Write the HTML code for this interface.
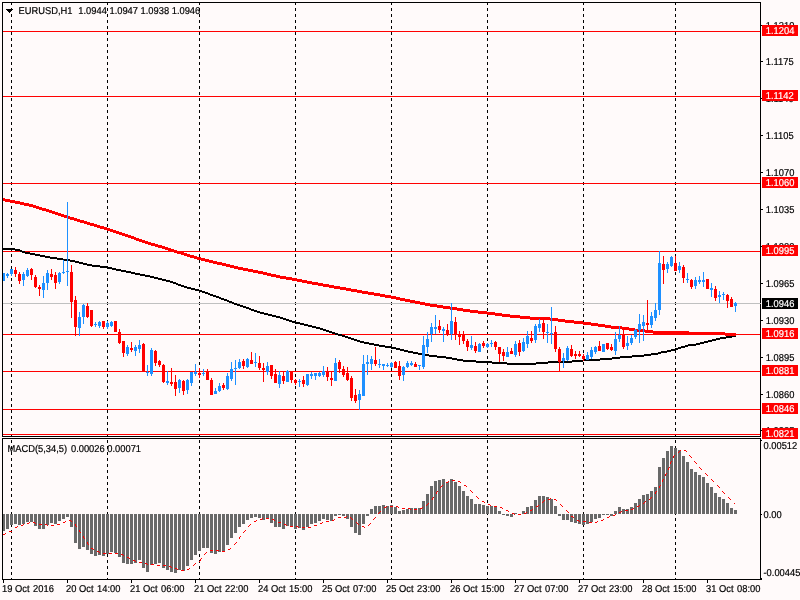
<!DOCTYPE html>
<html><head><meta charset="utf-8"><title>EURUSD,H1</title>
<style>
html,body{margin:0;padding:0;background:#fffafa;overflow:hidden}
svg{display:block}
text{font-family:"Liberation Sans",sans-serif;font-size:10px;fill:#000;stroke:#000;stroke-width:0.2px;text-rendering:geometricPrecision}
.w{fill:#fff;stroke:#fff}
</style></head><body>
<svg width="800" height="600" viewBox="0 0 800 600">
<rect width="800" height="600" fill="#fffafa"/>
<g stroke="#000" stroke-width="1" stroke-dasharray="3 3" shape-rendering="crispEdges">
<line x1="11.5" y1="2" x2="11.5" y2="579"/><line x1="107.5" y1="2" x2="107.5" y2="579"/><line x1="199.5" y1="2" x2="199.5" y2="579"/><line x1="295.5" y1="2" x2="295.5" y2="579"/><line x1="391.5" y1="2" x2="391.5" y2="579"/><line x1="487.5" y1="2" x2="487.5" y2="579"/><line x1="583.5" y1="2" x2="583.5" y2="579"/><line x1="675.5" y1="2" x2="675.5" y2="579"/>
</g>
<g fill="#696969" shape-rendering="crispEdges">
<rect x="3" y="514" width="2" height="17"/><rect x="6" y="514" width="3" height="15"/><rect x="10" y="514" width="3" height="11"/><rect x="14" y="514" width="3" height="10"/><rect x="18" y="514" width="3" height="11"/><rect x="22" y="514" width="3" height="10"/><rect x="26" y="514" width="3" height="8"/><rect x="30" y="514" width="3" height="8"/><rect x="34" y="514" width="3" height="12"/><rect x="38" y="514" width="3" height="15"/><rect x="42" y="514" width="3" height="15"/><rect x="46" y="514" width="3" height="11"/><rect x="50" y="514" width="3" height="9"/><rect x="54" y="514" width="3" height="10"/><rect x="58" y="514" width="3" height="7"/><rect x="62" y="514" width="3" height="5"/><rect x="66" y="514" width="3" height="3"/><rect x="70" y="514" width="3" height="13"/><rect x="74" y="514" width="3" height="29"/><rect x="78" y="514" width="3" height="35"/><rect x="82" y="514" width="3" height="33"/><rect x="86" y="514" width="3" height="36"/><rect x="90" y="514" width="3" height="40"/><rect x="94" y="514" width="3" height="42"/><rect x="98" y="514" width="3" height="41"/><rect x="102" y="514" width="3" height="42"/><rect x="106" y="514" width="3" height="40"/><rect x="110" y="514" width="3" height="38"/><rect x="114" y="514" width="3" height="39"/><rect x="118" y="514" width="3" height="43"/><rect x="122" y="514" width="3" height="49"/><rect x="126" y="514" width="3" height="50"/><rect x="130" y="514" width="3" height="50"/><rect x="134" y="514" width="3" height="49"/><rect x="138" y="514" width="3" height="46"/><rect x="142" y="514" width="3" height="54"/><rect x="146" y="514" width="3" height="58"/><rect x="150" y="514" width="3" height="51"/><rect x="154" y="514" width="3" height="50"/><rect x="158" y="514" width="3" height="49"/><rect x="162" y="514" width="3" height="54"/><rect x="166" y="514" width="3" height="56"/><rect x="170" y="514" width="3" height="58"/><rect x="174" y="514" width="3" height="59"/><rect x="178" y="514" width="3" height="56"/><rect x="182" y="514" width="3" height="57"/><rect x="186" y="514" width="3" height="52"/><rect x="190" y="514" width="3" height="46"/><rect x="194" y="514" width="3" height="41"/><rect x="198" y="514" width="3" height="37"/><rect x="202" y="514" width="3" height="34"/><rect x="206" y="514" width="3" height="34"/><rect x="210" y="514" width="3" height="39"/><rect x="214" y="514" width="3" height="40"/><rect x="218" y="514" width="3" height="38"/><rect x="222" y="514" width="3" height="38"/><rect x="226" y="514" width="3" height="31"/><rect x="230" y="514" width="3" height="24"/><rect x="234" y="514" width="3" height="19"/><rect x="238" y="514" width="3" height="13"/><rect x="242" y="514" width="3" height="10"/><rect x="246" y="514" width="3" height="6"/><rect x="250" y="514" width="3" height="4"/><rect x="254" y="514" width="3" height="3"/><rect x="258" y="514" width="3" height="4"/><rect x="262" y="514" width="3" height="6"/><rect x="266" y="514" width="3" height="5"/><rect x="270" y="514" width="3" height="9"/><rect x="274" y="514" width="3" height="13"/><rect x="278" y="514" width="3" height="13"/><rect x="282" y="514" width="3" height="15"/><rect x="286" y="514" width="3" height="12"/><rect x="290" y="514" width="3" height="13"/><rect x="294" y="514" width="3" height="15"/><rect x="298" y="514" width="3" height="14"/><rect x="302" y="514" width="3" height="16"/><rect x="306" y="514" width="3" height="13"/><rect x="310" y="514" width="3" height="10"/><rect x="314" y="514" width="3" height="9"/><rect x="318" y="514" width="3" height="7"/><rect x="322" y="514" width="3" height="5"/><rect x="326" y="514" width="3" height="6"/><rect x="330" y="514" width="3" height="7"/><rect x="334" y="514" width="3" height="2"/><rect x="338" y="514" width="3" height="1"/><rect x="342" y="514" width="3" height="2"/><rect x="346" y="514" width="3" height="5"/><rect x="350" y="514" width="3" height="13"/><rect x="354" y="514" width="3" height="19"/><rect x="358" y="514" width="3" height="21"/><rect x="362" y="514" width="3" height="10"/><rect x="366" y="514" width="3" height="2"/><rect x="370" y="509" width="3" height="5"/><rect x="374" y="506" width="3" height="8"/><rect x="378" y="506" width="3" height="8"/><rect x="382" y="505" width="3" height="9"/><rect x="386" y="506" width="3" height="8"/><rect x="390" y="505" width="3" height="9"/><rect x="394" y="507" width="3" height="7"/><rect x="398" y="511" width="3" height="3"/><rect x="402" y="510" width="3" height="4"/><rect x="406" y="509" width="3" height="5"/><rect x="410" y="508" width="3" height="6"/><rect x="414" y="508" width="3" height="6"/><rect x="418" y="508" width="3" height="6"/><rect x="422" y="501" width="3" height="13"/><rect x="426" y="494" width="3" height="20"/><rect x="430" y="486" width="3" height="28"/><rect x="434" y="481" width="3" height="33"/><rect x="438" y="480" width="3" height="34"/><rect x="442" y="479" width="3" height="35"/><rect x="446" y="482" width="3" height="32"/><rect x="450" y="479" width="3" height="35"/><rect x="454" y="482" width="3" height="32"/><rect x="458" y="486" width="3" height="28"/><rect x="462" y="491" width="3" height="23"/><rect x="466" y="496" width="3" height="18"/><rect x="470" y="499" width="3" height="15"/><rect x="474" y="504" width="3" height="10"/><rect x="478" y="504" width="3" height="10"/><rect x="482" y="505" width="3" height="9"/><rect x="486" y="506" width="3" height="8"/><rect x="490" y="506" width="3" height="8"/><rect x="494" y="506" width="3" height="8"/><rect x="498" y="511" width="3" height="3"/><rect x="502" y="514" width="3" height="1"/><rect x="506" y="514" width="3" height="2"/><rect x="510" y="514" width="3" height="3"/><rect x="514" y="513" width="3" height="1"/><rect x="522" y="511" width="3" height="3"/><rect x="526" y="507" width="3" height="7"/><rect x="530" y="506" width="3" height="8"/><rect x="534" y="500" width="3" height="14"/><rect x="538" y="496" width="3" height="18"/><rect x="542" y="496" width="3" height="18"/><rect x="546" y="497" width="3" height="17"/><rect x="550" y="499" width="3" height="15"/><rect x="554" y="506" width="3" height="8"/><rect x="558" y="514" width="3" height="2"/><rect x="562" y="514" width="3" height="6"/><rect x="566" y="514" width="3" height="6"/><rect x="570" y="514" width="3" height="8"/><rect x="574" y="514" width="3" height="9"/><rect x="578" y="514" width="3" height="10"/><rect x="582" y="514" width="3" height="11"/><rect x="586" y="514" width="3" height="10"/><rect x="590" y="514" width="3" height="8"/><rect x="594" y="514" width="3" height="5"/><rect x="598" y="514" width="3" height="4"/><rect x="602" y="514" width="3" height="1"/><rect x="606" y="514" width="3" height="1"/><rect x="610" y="514" width="3" height="2"/><rect x="614" y="511" width="3" height="3"/><rect x="618" y="507" width="3" height="7"/><rect x="622" y="509" width="3" height="5"/><rect x="626" y="509" width="3" height="5"/><rect x="630" y="507" width="3" height="7"/><rect x="634" y="503" width="3" height="11"/><rect x="638" y="499" width="3" height="15"/><rect x="642" y="495" width="3" height="19"/><rect x="646" y="494" width="3" height="20"/><rect x="650" y="491" width="3" height="23"/><rect x="654" y="487" width="3" height="27"/><rect x="658" y="467" width="3" height="47"/><rect x="662" y="458" width="3" height="56"/><rect x="666" y="451" width="3" height="63"/><rect x="670" y="446" width="3" height="68"/><rect x="674" y="448" width="3" height="66"/><rect x="678" y="450" width="3" height="64"/><rect x="682" y="456" width="3" height="58"/><rect x="686" y="462" width="3" height="52"/><rect x="690" y="469" width="3" height="45"/><rect x="694" y="472" width="3" height="42"/><rect x="698" y="475" width="3" height="39"/><rect x="702" y="477" width="3" height="37"/><rect x="706" y="483" width="3" height="31"/><rect x="710" y="487" width="3" height="27"/><rect x="714" y="493" width="3" height="21"/><rect x="718" y="497" width="3" height="17"/><rect x="722" y="499" width="3" height="15"/><rect x="726" y="503" width="3" height="11"/><rect x="730" y="508" width="3" height="6"/><rect x="734" y="510" width="3" height="4"/>
</g>
<g shape-rendering="crispEdges">
<rect x="3" y="303" width="757" height="1" fill="#c0c0c0"/>
</g>
<g shape-rendering="crispEdges" fill="#ff0000">
<rect x="3" y="31" width="757" height="1"/><rect x="3" y="96" width="757" height="1"/><rect x="3" y="183" width="757" height="1"/><rect x="3" y="251" width="757" height="1"/><rect x="3" y="334" width="757" height="1"/><rect x="3" y="371" width="757" height="1"/><rect x="3" y="409" width="757" height="1"/><rect x="3" y="434" width="757" height="1"/>
</g>
<g fill="#000" shape-rendering="crispEdges"><rect x="3" y="248" width="12" height="2"/><rect x="15" y="249" width="5" height="2"/><rect x="20" y="250" width="2" height="2"/><rect x="22" y="251" width="3" height="2"/><rect x="25" y="252" width="5" height="2"/><rect x="30" y="253" width="5" height="2"/><rect x="35" y="254" width="5" height="2"/><rect x="40" y="255" width="5" height="2"/><rect x="45" y="256" width="5" height="2"/><rect x="50" y="257" width="7" height="2"/><rect x="57" y="258" width="6" height="2"/><rect x="63" y="259" width="7" height="2"/><rect x="70" y="260" width="5" height="2"/><rect x="75" y="261" width="4" height="2"/><rect x="79" y="262" width="4" height="2"/><rect x="83" y="263" width="4" height="2"/><rect x="87" y="264" width="5" height="2"/><rect x="92" y="265" width="8" height="2"/><rect x="100" y="266" width="7" height="2"/><rect x="107" y="267" width="5" height="2"/><rect x="112" y="268" width="4" height="2"/><rect x="116" y="269" width="5" height="2"/><rect x="121" y="270" width="5" height="2"/><rect x="126" y="271" width="5" height="2"/><rect x="131" y="272" width="4" height="2"/><rect x="135" y="273" width="5" height="2"/><rect x="140" y="274" width="5" height="2"/><rect x="145" y="275" width="5" height="2"/><rect x="150" y="276" width="4" height="2"/><rect x="154" y="277" width="4" height="2"/><rect x="158" y="278" width="4" height="2"/><rect x="162" y="279" width="4" height="2"/><rect x="166" y="280" width="4" height="2"/><rect x="170" y="281" width="3" height="2"/><rect x="173" y="282" width="3" height="2"/><rect x="176" y="283" width="2" height="2"/><rect x="178" y="284" width="3" height="2"/><rect x="181" y="285" width="3" height="2"/><rect x="184" y="286" width="3" height="2"/><rect x="187" y="287" width="4" height="2"/><rect x="191" y="288" width="4" height="2"/><rect x="195" y="289" width="4" height="2"/><rect x="199" y="290" width="3" height="2"/><rect x="202" y="291" width="3" height="2"/><rect x="205" y="292" width="3" height="2"/><rect x="208" y="293" width="2" height="2"/><rect x="210" y="294" width="3" height="2"/><rect x="213" y="295" width="3" height="2"/><rect x="216" y="296" width="3" height="2"/><rect x="219" y="297" width="2" height="2"/><rect x="221" y="298" width="3" height="2"/><rect x="224" y="299" width="3" height="2"/><rect x="227" y="300" width="2" height="2"/><rect x="229" y="301" width="3" height="2"/><rect x="232" y="302" width="2" height="2"/><rect x="234" y="303" width="3" height="2"/><rect x="237" y="304" width="3" height="2"/><rect x="240" y="305" width="3" height="2"/><rect x="243" y="306" width="3" height="2"/><rect x="246" y="307" width="3" height="2"/><rect x="249" y="308" width="2" height="2"/><rect x="251" y="309" width="3" height="2"/><rect x="254" y="310" width="3" height="2"/><rect x="257" y="311" width="3" height="2"/><rect x="260" y="312" width="4" height="2"/><rect x="264" y="313" width="4" height="2"/><rect x="268" y="314" width="4" height="2"/><rect x="272" y="315" width="4" height="2"/><rect x="276" y="316" width="4" height="2"/><rect x="280" y="317" width="3" height="2"/><rect x="283" y="318" width="3" height="2"/><rect x="286" y="319" width="3" height="2"/><rect x="289" y="320" width="3" height="2"/><rect x="292" y="321" width="3" height="2"/><rect x="295" y="322" width="5" height="2"/><rect x="300" y="323" width="4" height="2"/><rect x="304" y="324" width="4" height="2"/><rect x="308" y="325" width="4" height="2"/><rect x="312" y="326" width="4" height="2"/><rect x="316" y="327" width="4" height="2"/><rect x="320" y="328" width="3" height="2"/><rect x="323" y="329" width="3" height="2"/><rect x="326" y="330" width="3" height="2"/><rect x="329" y="331" width="3" height="2"/><rect x="332" y="332" width="3" height="2"/><rect x="335" y="333" width="3" height="2"/><rect x="338" y="334" width="4" height="2"/><rect x="342" y="335" width="3" height="2"/><rect x="345" y="336" width="3" height="2"/><rect x="348" y="337" width="3" height="2"/><rect x="351" y="338" width="3" height="2"/><rect x="354" y="339" width="3" height="2"/><rect x="357" y="340" width="3" height="2"/><rect x="360" y="341" width="4" height="2"/><rect x="364" y="342" width="5" height="2"/><rect x="369" y="343" width="5" height="2"/><rect x="374" y="344" width="5" height="2"/><rect x="379" y="345" width="6" height="2"/><rect x="385" y="346" width="6" height="2"/><rect x="391" y="347" width="5" height="2"/><rect x="396" y="348" width="4" height="2"/><rect x="400" y="349" width="4" height="2"/><rect x="404" y="350" width="4" height="2"/><rect x="408" y="351" width="5" height="2"/><rect x="413" y="352" width="5" height="2"/><rect x="418" y="353" width="6" height="2"/><rect x="424" y="354" width="5" height="2"/><rect x="429" y="355" width="8" height="2"/><rect x="437" y="356" width="9" height="2"/><rect x="446" y="357" width="6" height="2"/><rect x="452" y="358" width="5" height="2"/><rect x="457" y="359" width="6" height="2"/><rect x="463" y="360" width="13" height="2"/><rect x="476" y="361" width="16" height="2"/><rect x="492" y="362" width="15" height="2"/><rect x="507" y="363" width="29" height="2"/><rect x="536" y="362" width="12" height="2"/><rect x="548" y="361" width="24" height="2"/><rect x="572" y="360" width="11" height="2"/><rect x="583" y="359" width="17" height="2"/><rect x="600" y="358" width="12" height="2"/><rect x="612" y="357" width="8" height="2"/><rect x="620" y="356" width="12" height="2"/><rect x="632" y="355" width="12" height="2"/><rect x="644" y="354" width="7" height="2"/><rect x="651" y="353" width="7" height="2"/><rect x="658" y="352" width="3" height="2"/><rect x="661" y="351" width="6" height="2"/><rect x="667" y="350" width="4" height="2"/><rect x="671" y="349" width="4" height="2"/><rect x="675" y="348" width="3" height="2"/><rect x="678" y="347" width="3" height="2"/><rect x="681" y="346" width="4" height="2"/><rect x="685" y="345" width="3" height="2"/><rect x="688" y="344" width="8" height="2"/><rect x="696" y="343" width="4" height="2"/><rect x="700" y="342" width="4" height="2"/><rect x="704" y="341" width="4" height="2"/><rect x="708" y="340" width="4" height="2"/><rect x="712" y="339" width="4" height="2"/><rect x="716" y="338" width="4" height="2"/><rect x="720" y="337" width="6" height="2"/><rect x="726" y="336" width="6" height="2"/><rect x="732" y="335" width="4" height="2"/></g>
<g fill="#ff0000" shape-rendering="crispEdges"><rect x="3" y="198" width="2" height="3"/><rect x="5" y="199" width="5" height="3"/><rect x="10" y="200" width="5" height="3"/><rect x="15" y="201" width="5" height="3"/><rect x="20" y="202" width="4" height="3"/><rect x="24" y="203" width="5" height="3"/><rect x="29" y="204" width="4" height="3"/><rect x="33" y="205" width="3" height="3"/><rect x="36" y="206" width="3" height="3"/><rect x="39" y="207" width="3" height="3"/><rect x="42" y="208" width="4" height="3"/><rect x="46" y="209" width="3" height="3"/><rect x="49" y="210" width="3" height="3"/><rect x="52" y="211" width="3" height="3"/><rect x="55" y="212" width="3" height="3"/><rect x="58" y="213" width="3" height="3"/><rect x="61" y="214" width="3" height="3"/><rect x="64" y="215" width="3" height="3"/><rect x="67" y="216" width="3" height="3"/><rect x="70" y="217" width="4" height="3"/><rect x="74" y="218" width="3" height="3"/><rect x="77" y="219" width="3" height="3"/><rect x="80" y="220" width="4" height="3"/><rect x="84" y="221" width="3" height="3"/><rect x="87" y="222" width="3" height="3"/><rect x="90" y="223" width="4" height="3"/><rect x="94" y="224" width="3" height="3"/><rect x="97" y="225" width="3" height="3"/><rect x="100" y="226" width="4" height="3"/><rect x="104" y="227" width="3" height="3"/><rect x="107" y="228" width="3" height="3"/><rect x="110" y="229" width="3" height="3"/><rect x="113" y="230" width="3" height="3"/><rect x="116" y="231" width="3" height="3"/><rect x="119" y="232" width="3" height="3"/><rect x="122" y="233" width="3" height="3"/><rect x="125" y="234" width="3" height="3"/><rect x="128" y="235" width="3" height="3"/><rect x="131" y="236" width="3" height="3"/><rect x="134" y="237" width="2" height="3"/><rect x="136" y="238" width="3" height="3"/><rect x="139" y="239" width="3" height="3"/><rect x="142" y="240" width="3" height="3"/><rect x="145" y="241" width="3" height="3"/><rect x="148" y="242" width="3" height="3"/><rect x="151" y="243" width="4" height="3"/><rect x="155" y="244" width="3" height="3"/><rect x="158" y="245" width="4" height="3"/><rect x="162" y="246" width="3" height="3"/><rect x="165" y="247" width="3" height="3"/><rect x="168" y="248" width="3" height="3"/><rect x="171" y="249" width="3" height="3"/><rect x="174" y="250" width="3" height="3"/><rect x="177" y="251" width="4" height="3"/><rect x="181" y="252" width="3" height="3"/><rect x="184" y="253" width="3" height="3"/><rect x="187" y="254" width="3" height="3"/><rect x="190" y="255" width="4" height="3"/><rect x="194" y="256" width="3" height="3"/><rect x="197" y="257" width="4" height="3"/><rect x="201" y="258" width="4" height="3"/><rect x="205" y="259" width="4" height="3"/><rect x="209" y="260" width="4" height="3"/><rect x="213" y="261" width="4" height="3"/><rect x="217" y="262" width="5" height="3"/><rect x="222" y="263" width="4" height="3"/><rect x="226" y="264" width="4" height="3"/><rect x="230" y="265" width="4" height="3"/><rect x="234" y="266" width="4" height="3"/><rect x="238" y="267" width="5" height="3"/><rect x="243" y="268" width="5" height="3"/><rect x="248" y="269" width="5" height="3"/><rect x="253" y="270" width="5" height="3"/><rect x="258" y="271" width="5" height="3"/><rect x="263" y="272" width="4" height="3"/><rect x="267" y="273" width="4" height="3"/><rect x="271" y="274" width="5" height="3"/><rect x="276" y="275" width="4" height="3"/><rect x="280" y="276" width="6" height="3"/><rect x="286" y="277" width="6" height="3"/><rect x="292" y="278" width="5" height="3"/><rect x="297" y="279" width="5" height="3"/><rect x="302" y="280" width="5" height="3"/><rect x="307" y="281" width="5" height="3"/><rect x="312" y="282" width="6" height="3"/><rect x="318" y="283" width="5" height="3"/><rect x="323" y="284" width="6" height="3"/><rect x="329" y="285" width="5" height="3"/><rect x="334" y="286" width="6" height="3"/><rect x="340" y="287" width="6" height="3"/><rect x="346" y="288" width="5" height="3"/><rect x="351" y="289" width="6" height="3"/><rect x="357" y="290" width="5" height="3"/><rect x="362" y="291" width="6" height="3"/><rect x="368" y="292" width="6" height="3"/><rect x="374" y="293" width="6" height="3"/><rect x="380" y="294" width="5" height="3"/><rect x="385" y="295" width="6" height="3"/><rect x="391" y="296" width="5" height="3"/><rect x="396" y="297" width="4" height="3"/><rect x="400" y="298" width="5" height="3"/><rect x="405" y="299" width="5" height="3"/><rect x="410" y="300" width="5" height="3"/><rect x="415" y="301" width="5" height="3"/><rect x="420" y="302" width="5" height="3"/><rect x="425" y="303" width="5" height="3"/><rect x="430" y="304" width="7" height="3"/><rect x="437" y="305" width="6" height="3"/><rect x="443" y="306" width="7" height="3"/><rect x="450" y="307" width="7" height="3"/><rect x="457" y="308" width="6" height="3"/><rect x="463" y="309" width="7" height="3"/><rect x="470" y="310" width="8" height="3"/><rect x="478" y="311" width="9" height="3"/><rect x="487" y="312" width="8" height="3"/><rect x="495" y="313" width="7" height="3"/><rect x="502" y="314" width="8" height="3"/><rect x="510" y="315" width="10" height="3"/><rect x="520" y="316" width="10" height="3"/><rect x="530" y="317" width="20" height="3"/><rect x="550" y="318" width="8" height="3"/><rect x="558" y="319" width="7" height="3"/><rect x="565" y="320" width="9" height="3"/><rect x="574" y="321" width="9" height="3"/><rect x="583" y="322" width="8" height="3"/><rect x="591" y="323" width="7" height="3"/><rect x="598" y="324" width="7" height="3"/><rect x="605" y="325" width="6" height="3"/><rect x="611" y="326" width="11" height="3"/><rect x="622" y="327" width="7" height="3"/><rect x="629" y="328" width="6" height="3"/><rect x="635" y="329" width="10" height="3"/><rect x="645" y="330" width="8" height="3"/><rect x="653" y="331" width="36" height="3"/><rect x="689" y="332" width="36" height="3"/><rect x="725" y="333" width="11" height="3"/></g>
<g shape-rendering="crispEdges">
<rect x="3" y="273" width="1" height="8" fill="#1e90ff"/><rect x="3" y="273" width="2" height="8" fill="#1e90ff"/><rect x="7" y="273" width="1" height="5" fill="#1e90ff"/><rect x="6" y="274" width="3" height="2" fill="#1e90ff"/><rect x="11" y="269" width="1" height="7" fill="#1e90ff"/><rect x="10" y="269" width="3" height="5" fill="#1e90ff"/><rect x="15" y="267" width="1" height="10" fill="#ff0000"/><rect x="14" y="270" width="3" height="4" fill="#ff0000"/><rect x="19" y="272" width="1" height="12" fill="#ff0000"/><rect x="18" y="274" width="3" height="7" fill="#ff0000"/><rect x="23" y="272" width="1" height="14" fill="#1e90ff"/><rect x="22" y="274" width="3" height="6" fill="#1e90ff"/><rect x="27" y="268" width="1" height="9" fill="#1e90ff"/><rect x="26" y="270" width="3" height="6" fill="#1e90ff"/><rect x="31" y="268" width="1" height="12" fill="#ff0000"/><rect x="30" y="269" width="3" height="6" fill="#ff0000"/><rect x="35" y="275" width="1" height="13" fill="#ff0000"/><rect x="34" y="277" width="3" height="10" fill="#ff0000"/><rect x="39" y="285" width="1" height="11" fill="#ff0000"/><rect x="38" y="287" width="3" height="2" fill="#ff0000"/><rect x="43" y="276" width="1" height="22" fill="#1e90ff"/><rect x="42" y="283" width="3" height="7" fill="#1e90ff"/><rect x="47" y="270" width="1" height="20" fill="#1e90ff"/><rect x="46" y="273" width="3" height="10" fill="#1e90ff"/><rect x="51" y="269" width="1" height="11" fill="#ff0000"/><rect x="50" y="274" width="3" height="3" fill="#ff0000"/><rect x="55" y="272" width="1" height="17" fill="#ff0000"/><rect x="54" y="275" width="3" height="8" fill="#ff0000"/><rect x="59" y="272" width="1" height="12" fill="#1e90ff"/><rect x="58" y="273" width="3" height="9" fill="#1e90ff"/><rect x="63" y="260" width="1" height="14" fill="#1e90ff"/><rect x="62" y="272" width="3" height="1" fill="#1e90ff"/><rect x="67" y="202" width="1" height="84" fill="#1e90ff"/><rect x="66" y="271" width="3" height="1" fill="#1e90ff"/><rect x="71" y="265" width="1" height="53" fill="#ff0000"/><rect x="70" y="272" width="3" height="30" fill="#ff0000"/><rect x="75" y="296" width="1" height="40" fill="#ff0000"/><rect x="74" y="300" width="3" height="27" fill="#ff0000"/><rect x="79" y="312" width="1" height="24" fill="#1e90ff"/><rect x="78" y="317" width="3" height="11" fill="#1e90ff"/><rect x="83" y="304" width="1" height="20" fill="#1e90ff"/><rect x="82" y="305" width="3" height="12" fill="#1e90ff"/><rect x="87" y="303" width="1" height="15" fill="#ff0000"/><rect x="86" y="306" width="3" height="11" fill="#ff0000"/><rect x="91" y="310" width="1" height="17" fill="#ff0000"/><rect x="90" y="310" width="3" height="16" fill="#ff0000"/><rect x="95" y="322" width="1" height="5" fill="#1e90ff"/><rect x="94" y="324" width="3" height="1" fill="#1e90ff"/><rect x="99" y="321" width="1" height="7" fill="#1e90ff"/><rect x="98" y="322" width="3" height="4" fill="#1e90ff"/><rect x="103" y="321" width="1" height="8" fill="#ff0000"/><rect x="102" y="321" width="3" height="6" fill="#ff0000"/><rect x="107" y="321" width="1" height="8" fill="#1e90ff"/><rect x="106" y="323" width="3" height="4" fill="#1e90ff"/><rect x="111" y="321" width="1" height="6" fill="#1e90ff"/><rect x="110" y="322" width="3" height="4" fill="#1e90ff"/><rect x="115" y="321" width="1" height="11" fill="#ff0000"/><rect x="114" y="321" width="3" height="11" fill="#ff0000"/><rect x="119" y="329" width="1" height="15" fill="#ff0000"/><rect x="118" y="332" width="3" height="11" fill="#ff0000"/><rect x="123" y="341" width="1" height="16" fill="#ff0000"/><rect x="122" y="341" width="3" height="12" fill="#ff0000"/><rect x="127" y="345" width="1" height="11" fill="#1e90ff"/><rect x="126" y="347" width="3" height="7" fill="#1e90ff"/><rect x="131" y="342" width="1" height="10" fill="#ff0000"/><rect x="130" y="348" width="3" height="2" fill="#ff0000"/><rect x="135" y="345" width="1" height="11" fill="#1e90ff"/><rect x="134" y="347" width="3" height="4" fill="#1e90ff"/><rect x="139" y="340" width="1" height="13" fill="#1e90ff"/><rect x="138" y="345" width="3" height="4" fill="#1e90ff"/><rect x="143" y="343" width="1" height="29" fill="#ff0000"/><rect x="142" y="344" width="3" height="28" fill="#ff0000"/><rect x="147" y="365" width="1" height="11" fill="#1e90ff"/><rect x="146" y="372" width="3" height="1" fill="#1e90ff"/><rect x="151" y="348" width="1" height="28" fill="#1e90ff"/><rect x="150" y="350" width="3" height="24" fill="#1e90ff"/><rect x="155" y="350" width="1" height="16" fill="#ff0000"/><rect x="154" y="351" width="3" height="12" fill="#ff0000"/><rect x="159" y="360" width="1" height="7" fill="#ff0000"/><rect x="158" y="361" width="3" height="4" fill="#ff0000"/><rect x="163" y="364" width="1" height="19" fill="#ff0000"/><rect x="162" y="365" width="3" height="17" fill="#ff0000"/><rect x="167" y="371" width="1" height="14" fill="#1e90ff"/><rect x="166" y="381" width="3" height="2" fill="#1e90ff"/><rect x="171" y="368" width="1" height="18" fill="#ff0000"/><rect x="170" y="382" width="3" height="2" fill="#ff0000"/><rect x="175" y="375" width="1" height="21" fill="#ff0000"/><rect x="174" y="382" width="3" height="7" fill="#ff0000"/><rect x="179" y="379" width="1" height="14" fill="#1e90ff"/><rect x="178" y="380" width="3" height="8" fill="#1e90ff"/><rect x="183" y="380" width="1" height="15" fill="#ff0000"/><rect x="182" y="381" width="3" height="10" fill="#ff0000"/><rect x="187" y="379" width="1" height="15" fill="#1e90ff"/><rect x="186" y="380" width="3" height="10" fill="#1e90ff"/><rect x="191" y="372" width="1" height="14" fill="#1e90ff"/><rect x="190" y="372" width="3" height="11" fill="#1e90ff"/><rect x="195" y="364" width="1" height="12" fill="#1e90ff"/><rect x="194" y="372" width="3" height="2" fill="#1e90ff"/><rect x="199" y="368" width="1" height="10" fill="#ff0000"/><rect x="198" y="373" width="3" height="2" fill="#ff0000"/><rect x="203" y="369" width="1" height="7" fill="#1e90ff"/><rect x="202" y="373" width="3" height="1" fill="#1e90ff"/><rect x="207" y="369" width="1" height="11" fill="#ff0000"/><rect x="206" y="371" width="3" height="9" fill="#ff0000"/><rect x="211" y="378" width="1" height="17" fill="#ff0000"/><rect x="210" y="380" width="3" height="15" fill="#ff0000"/><rect x="215" y="388" width="1" height="6" fill="#1e90ff"/><rect x="214" y="391" width="3" height="3" fill="#1e90ff"/><rect x="219" y="383" width="1" height="9" fill="#1e90ff"/><rect x="218" y="386" width="3" height="5" fill="#1e90ff"/><rect x="223" y="383" width="1" height="7" fill="#ff0000"/><rect x="222" y="385" width="3" height="3" fill="#ff0000"/><rect x="227" y="373" width="1" height="17" fill="#1e90ff"/><rect x="226" y="376" width="3" height="13" fill="#1e90ff"/><rect x="231" y="362" width="1" height="19" fill="#1e90ff"/><rect x="230" y="369" width="3" height="10" fill="#1e90ff"/><rect x="235" y="360" width="1" height="25" fill="#1e90ff"/><rect x="234" y="368" width="3" height="1" fill="#1e90ff"/><rect x="239" y="359" width="1" height="10" fill="#1e90ff"/><rect x="238" y="362" width="3" height="6" fill="#1e90ff"/><rect x="243" y="359" width="1" height="10" fill="#ff0000"/><rect x="242" y="361" width="3" height="5" fill="#ff0000"/><rect x="247" y="358" width="1" height="10" fill="#1e90ff"/><rect x="246" y="359" width="3" height="8" fill="#1e90ff"/><rect x="251" y="352" width="1" height="12" fill="#ff0000"/><rect x="250" y="360" width="3" height="4" fill="#ff0000"/><rect x="255" y="353" width="1" height="14" fill="#1e90ff"/><rect x="254" y="362" width="3" height="1" fill="#1e90ff"/><rect x="259" y="356" width="1" height="14" fill="#ff0000"/><rect x="258" y="363" width="3" height="5" fill="#ff0000"/><rect x="263" y="363" width="1" height="19" fill="#ff0000"/><rect x="262" y="368" width="3" height="2" fill="#ff0000"/><rect x="267" y="362" width="1" height="13" fill="#1e90ff"/><rect x="266" y="366" width="3" height="6" fill="#1e90ff"/><rect x="271" y="365" width="1" height="14" fill="#ff0000"/><rect x="270" y="365" width="3" height="11" fill="#ff0000"/><rect x="275" y="369" width="1" height="14" fill="#ff0000"/><rect x="274" y="374" width="3" height="9" fill="#ff0000"/><rect x="279" y="371" width="1" height="17" fill="#1e90ff"/><rect x="278" y="375" width="3" height="9" fill="#1e90ff"/><rect x="283" y="372" width="1" height="12" fill="#ff0000"/><rect x="282" y="376" width="3" height="5" fill="#ff0000"/><rect x="287" y="370" width="1" height="12" fill="#1e90ff"/><rect x="286" y="371" width="3" height="11" fill="#1e90ff"/><rect x="291" y="372" width="1" height="11" fill="#ff0000"/><rect x="290" y="372" width="3" height="8" fill="#ff0000"/><rect x="295" y="379" width="1" height="6" fill="#ff0000"/><rect x="294" y="380" width="3" height="3" fill="#ff0000"/><rect x="299" y="379" width="1" height="8" fill="#1e90ff"/><rect x="298" y="381" width="3" height="1" fill="#1e90ff"/><rect x="303" y="376" width="1" height="11" fill="#ff0000"/><rect x="302" y="380" width="3" height="4" fill="#ff0000"/><rect x="307" y="374" width="1" height="12" fill="#1e90ff"/><rect x="306" y="374" width="3" height="11" fill="#1e90ff"/><rect x="311" y="372" width="1" height="7" fill="#1e90ff"/><rect x="310" y="374" width="3" height="2" fill="#1e90ff"/><rect x="315" y="373" width="1" height="7" fill="#1e90ff"/><rect x="314" y="373" width="3" height="3" fill="#1e90ff"/><rect x="319" y="372" width="1" height="5" fill="#1e90ff"/><rect x="318" y="373" width="3" height="3" fill="#1e90ff"/><rect x="323" y="366" width="1" height="11" fill="#1e90ff"/><rect x="322" y="371" width="3" height="4" fill="#1e90ff"/><rect x="327" y="367" width="1" height="14" fill="#ff0000"/><rect x="326" y="371" width="3" height="6" fill="#ff0000"/><rect x="331" y="372" width="1" height="14" fill="#ff0000"/><rect x="330" y="378" width="3" height="2" fill="#ff0000"/><rect x="335" y="358" width="1" height="23" fill="#1e90ff"/><rect x="334" y="363" width="3" height="18" fill="#1e90ff"/><rect x="339" y="360" width="1" height="13" fill="#ff0000"/><rect x="338" y="362" width="3" height="7" fill="#ff0000"/><rect x="343" y="366" width="1" height="11" fill="#ff0000"/><rect x="342" y="369" width="3" height="6" fill="#ff0000"/><rect x="347" y="367" width="1" height="14" fill="#ff0000"/><rect x="346" y="373" width="3" height="7" fill="#ff0000"/><rect x="351" y="376" width="1" height="25" fill="#ff0000"/><rect x="350" y="378" width="3" height="20" fill="#ff0000"/><rect x="355" y="389" width="1" height="14" fill="#ff0000"/><rect x="354" y="395" width="3" height="6" fill="#ff0000"/><rect x="359" y="390" width="1" height="20" fill="#1e90ff"/><rect x="358" y="394" width="3" height="6" fill="#1e90ff"/><rect x="363" y="355" width="1" height="41" fill="#1e90ff"/><rect x="362" y="364" width="3" height="32" fill="#1e90ff"/><rect x="367" y="355" width="1" height="20" fill="#1e90ff"/><rect x="366" y="362" width="3" height="2" fill="#1e90ff"/><rect x="371" y="356" width="1" height="14" fill="#1e90ff"/><rect x="370" y="359" width="3" height="5" fill="#1e90ff"/><rect x="375" y="347" width="1" height="19" fill="#ff0000"/><rect x="374" y="360" width="3" height="4" fill="#ff0000"/><rect x="379" y="359" width="1" height="9" fill="#1e90ff"/><rect x="378" y="364" width="3" height="1" fill="#1e90ff"/><rect x="383" y="364" width="1" height="6" fill="#1e90ff"/><rect x="382" y="364" width="3" height="2" fill="#1e90ff"/><rect x="387" y="363" width="1" height="4" fill="#1e90ff"/><rect x="386" y="365" width="3" height="1" fill="#1e90ff"/><rect x="391" y="362" width="1" height="6" fill="#1e90ff"/><rect x="390" y="363" width="3" height="4" fill="#1e90ff"/><rect x="395" y="361" width="1" height="7" fill="#ff0000"/><rect x="394" y="362" width="3" height="6" fill="#ff0000"/><rect x="399" y="361" width="1" height="19" fill="#ff0000"/><rect x="398" y="366" width="3" height="10" fill="#ff0000"/><rect x="403" y="366" width="1" height="15" fill="#1e90ff"/><rect x="402" y="367" width="3" height="8" fill="#1e90ff"/><rect x="407" y="361" width="1" height="7" fill="#1e90ff"/><rect x="406" y="363" width="3" height="4" fill="#1e90ff"/><rect x="411" y="361" width="1" height="5" fill="#1e90ff"/><rect x="410" y="363" width="3" height="2" fill="#1e90ff"/><rect x="415" y="362" width="1" height="5" fill="#ff0000"/><rect x="414" y="364" width="3" height="3" fill="#ff0000"/><rect x="419" y="365" width="1" height="5" fill="#1e90ff"/><rect x="418" y="365" width="3" height="1" fill="#1e90ff"/><rect x="423" y="336" width="1" height="33" fill="#1e90ff"/><rect x="422" y="345" width="3" height="22" fill="#1e90ff"/><rect x="427" y="332" width="1" height="21" fill="#1e90ff"/><rect x="426" y="339" width="3" height="8" fill="#1e90ff"/><rect x="431" y="323" width="1" height="19" fill="#1e90ff"/><rect x="430" y="327" width="3" height="7" fill="#1e90ff"/><rect x="435" y="315" width="1" height="19" fill="#1e90ff"/><rect x="434" y="327" width="3" height="2" fill="#1e90ff"/><rect x="439" y="320" width="1" height="13" fill="#ff0000"/><rect x="438" y="326" width="3" height="4" fill="#ff0000"/><rect x="443" y="327" width="1" height="15" fill="#1e90ff"/><rect x="442" y="329" width="3" height="2" fill="#1e90ff"/><rect x="447" y="324" width="1" height="12" fill="#ff0000"/><rect x="446" y="330" width="3" height="5" fill="#ff0000"/><rect x="451" y="303" width="1" height="37" fill="#1e90ff"/><rect x="450" y="321" width="3" height="13" fill="#1e90ff"/><rect x="455" y="317" width="1" height="23" fill="#ff0000"/><rect x="454" y="322" width="3" height="13" fill="#ff0000"/><rect x="459" y="331" width="1" height="14" fill="#ff0000"/><rect x="458" y="335" width="3" height="2" fill="#ff0000"/><rect x="463" y="331" width="1" height="13" fill="#ff0000"/><rect x="462" y="335" width="3" height="6" fill="#ff0000"/><rect x="467" y="339" width="1" height="12" fill="#ff0000"/><rect x="466" y="341" width="3" height="6" fill="#ff0000"/><rect x="471" y="336" width="1" height="14" fill="#1e90ff"/><rect x="470" y="345" width="3" height="3" fill="#1e90ff"/><rect x="475" y="342" width="1" height="11" fill="#ff0000"/><rect x="474" y="346" width="3" height="5" fill="#ff0000"/><rect x="479" y="343" width="1" height="9" fill="#1e90ff"/><rect x="478" y="344" width="3" height="8" fill="#1e90ff"/><rect x="483" y="341" width="1" height="7" fill="#ff0000"/><rect x="482" y="343" width="3" height="3" fill="#ff0000"/><rect x="487" y="343" width="1" height="5" fill="#1e90ff"/><rect x="486" y="344" width="3" height="3" fill="#1e90ff"/><rect x="491" y="340" width="1" height="7" fill="#1e90ff"/><rect x="490" y="343" width="3" height="1" fill="#1e90ff"/><rect x="495" y="341" width="1" height="9" fill="#ff0000"/><rect x="494" y="342" width="3" height="5" fill="#ff0000"/><rect x="499" y="347" width="1" height="15" fill="#ff0000"/><rect x="498" y="347" width="3" height="7" fill="#ff0000"/><rect x="503" y="349" width="1" height="12" fill="#ff0000"/><rect x="502" y="352" width="3" height="4" fill="#ff0000"/><rect x="507" y="347" width="1" height="10" fill="#1e90ff"/><rect x="506" y="352" width="3" height="5" fill="#1e90ff"/><rect x="511" y="348" width="1" height="6" fill="#ff0000"/><rect x="510" y="351" width="3" height="3" fill="#ff0000"/><rect x="515" y="341" width="1" height="16" fill="#1e90ff"/><rect x="514" y="344" width="3" height="11" fill="#1e90ff"/><rect x="519" y="340" width="1" height="16" fill="#ff0000"/><rect x="518" y="343" width="3" height="9" fill="#ff0000"/><rect x="523" y="338" width="1" height="14" fill="#1e90ff"/><rect x="522" y="342" width="3" height="9" fill="#1e90ff"/><rect x="527" y="331" width="1" height="17" fill="#1e90ff"/><rect x="526" y="336" width="3" height="8" fill="#1e90ff"/><rect x="531" y="331" width="1" height="12" fill="#ff0000"/><rect x="530" y="338" width="3" height="3" fill="#ff0000"/><rect x="535" y="324" width="1" height="19" fill="#1e90ff"/><rect x="534" y="326" width="3" height="14" fill="#1e90ff"/><rect x="539" y="319" width="1" height="13" fill="#1e90ff"/><rect x="538" y="324" width="3" height="4" fill="#1e90ff"/><rect x="543" y="320" width="1" height="19" fill="#ff0000"/><rect x="542" y="323" width="3" height="9" fill="#ff0000"/><rect x="547" y="324" width="1" height="19" fill="#1e90ff"/><rect x="546" y="332" width="3" height="1" fill="#1e90ff"/><rect x="551" y="307" width="1" height="37" fill="#1e90ff"/><rect x="550" y="333" width="3" height="1" fill="#1e90ff"/><rect x="555" y="326" width="1" height="26" fill="#ff0000"/><rect x="554" y="332" width="3" height="17" fill="#ff0000"/><rect x="559" y="347" width="1" height="25" fill="#ff0000"/><rect x="558" y="349" width="3" height="13" fill="#ff0000"/><rect x="563" y="353" width="1" height="15" fill="#1e90ff"/><rect x="562" y="358" width="3" height="3" fill="#1e90ff"/><rect x="567" y="346" width="1" height="15" fill="#1e90ff"/><rect x="566" y="348" width="3" height="12" fill="#1e90ff"/><rect x="571" y="345" width="1" height="12" fill="#ff0000"/><rect x="570" y="349" width="3" height="7" fill="#ff0000"/><rect x="575" y="351" width="1" height="8" fill="#ff0000"/><rect x="574" y="354" width="3" height="2" fill="#ff0000"/><rect x="579" y="351" width="1" height="6" fill="#ff0000"/><rect x="578" y="354" width="3" height="2" fill="#ff0000"/><rect x="583" y="354" width="1" height="7" fill="#ff0000"/><rect x="582" y="356" width="3" height="3" fill="#ff0000"/><rect x="587" y="352" width="1" height="8" fill="#1e90ff"/><rect x="586" y="355" width="3" height="5" fill="#1e90ff"/><rect x="591" y="347" width="1" height="12" fill="#1e90ff"/><rect x="590" y="350" width="3" height="7" fill="#1e90ff"/><rect x="595" y="346" width="1" height="8" fill="#1e90ff"/><rect x="594" y="347" width="3" height="5" fill="#1e90ff"/><rect x="599" y="341" width="1" height="10" fill="#ff0000"/><rect x="598" y="346" width="3" height="5" fill="#ff0000"/><rect x="603" y="344" width="1" height="8" fill="#1e90ff"/><rect x="602" y="344" width="3" height="8" fill="#1e90ff"/><rect x="607" y="343" width="1" height="7" fill="#ff0000"/><rect x="606" y="343" width="3" height="6" fill="#ff0000"/><rect x="611" y="344" width="1" height="7" fill="#ff0000"/><rect x="610" y="347" width="3" height="3" fill="#ff0000"/><rect x="615" y="332" width="1" height="23" fill="#1e90ff"/><rect x="614" y="339" width="3" height="12" fill="#1e90ff"/><rect x="619" y="326" width="1" height="16" fill="#1e90ff"/><rect x="618" y="335" width="3" height="4" fill="#1e90ff"/><rect x="623" y="330" width="1" height="19" fill="#ff0000"/><rect x="622" y="334" width="3" height="13" fill="#ff0000"/><rect x="627" y="336" width="1" height="14" fill="#1e90ff"/><rect x="626" y="343" width="3" height="3" fill="#1e90ff"/><rect x="631" y="335" width="1" height="10" fill="#1e90ff"/><rect x="630" y="338" width="3" height="5" fill="#1e90ff"/><rect x="635" y="329" width="1" height="10" fill="#1e90ff"/><rect x="634" y="330" width="3" height="7" fill="#1e90ff"/><rect x="639" y="314" width="1" height="29" fill="#1e90ff"/><rect x="638" y="324" width="3" height="6" fill="#1e90ff"/><rect x="643" y="315" width="1" height="26" fill="#1e90ff"/><rect x="642" y="322" width="3" height="4" fill="#1e90ff"/><rect x="647" y="300" width="1" height="30" fill="#ff0000"/><rect x="646" y="323" width="3" height="2" fill="#ff0000"/><rect x="651" y="312" width="1" height="16" fill="#1e90ff"/><rect x="650" y="316" width="3" height="9" fill="#1e90ff"/><rect x="655" y="303" width="1" height="18" fill="#1e90ff"/><rect x="654" y="310" width="3" height="8" fill="#1e90ff"/><rect x="659" y="251" width="1" height="64" fill="#1e90ff"/><rect x="658" y="263" width="3" height="47" fill="#1e90ff"/><rect x="663" y="256" width="1" height="28" fill="#ff0000"/><rect x="662" y="264" width="3" height="6" fill="#ff0000"/><rect x="667" y="262" width="1" height="11" fill="#1e90ff"/><rect x="666" y="264" width="3" height="5" fill="#1e90ff"/><rect x="671" y="256" width="1" height="11" fill="#1e90ff"/><rect x="670" y="257" width="3" height="9" fill="#1e90ff"/><rect x="675" y="256" width="1" height="15" fill="#ff0000"/><rect x="674" y="263" width="3" height="8" fill="#ff0000"/><rect x="679" y="262" width="1" height="11" fill="#1e90ff"/><rect x="678" y="266" width="3" height="4" fill="#1e90ff"/><rect x="683" y="265" width="1" height="18" fill="#ff0000"/><rect x="682" y="267" width="3" height="11" fill="#ff0000"/><rect x="687" y="273" width="1" height="10" fill="#1e90ff"/><rect x="686" y="279" width="3" height="1" fill="#1e90ff"/><rect x="691" y="279" width="1" height="10" fill="#ff0000"/><rect x="690" y="280" width="3" height="7" fill="#ff0000"/><rect x="695" y="277" width="1" height="12" fill="#1e90ff"/><rect x="694" y="280" width="3" height="6" fill="#1e90ff"/><rect x="699" y="276" width="1" height="8" fill="#1e90ff"/><rect x="698" y="280" width="3" height="2" fill="#1e90ff"/><rect x="703" y="272" width="1" height="15" fill="#1e90ff"/><rect x="702" y="280" width="3" height="2" fill="#1e90ff"/><rect x="707" y="279" width="1" height="10" fill="#ff0000"/><rect x="706" y="279" width="3" height="10" fill="#ff0000"/><rect x="711" y="283" width="1" height="14" fill="#1e90ff"/><rect x="710" y="288" width="3" height="2" fill="#1e90ff"/><rect x="715" y="286" width="1" height="15" fill="#ff0000"/><rect x="714" y="289" width="3" height="9" fill="#ff0000"/><rect x="719" y="291" width="1" height="12" fill="#1e90ff"/><rect x="718" y="295" width="3" height="2" fill="#1e90ff"/><rect x="723" y="292" width="1" height="8" fill="#1e90ff"/><rect x="722" y="294" width="3" height="1" fill="#1e90ff"/><rect x="727" y="294" width="1" height="14" fill="#ff0000"/><rect x="726" y="295" width="3" height="6" fill="#ff0000"/><rect x="731" y="297" width="1" height="10" fill="#ff0000"/><rect x="730" y="299" width="3" height="8" fill="#ff0000"/><rect x="735" y="302" width="1" height="10" fill="#1e90ff"/><rect x="734" y="303" width="3" height="3" fill="#1e90ff"/>
</g>
<g fill="#ff0000" shape-rendering="crispEdges">
<rect x="680" y="450" width="1" height="1"/><rect x="684" y="450" width="2" height="1"/><rect x="679" y="451" width="1" height="1"/><rect x="686" y="451" width="1" height="1"/><rect x="678" y="452" width="1" height="1"/><rect x="674" y="455" width="1" height="1"/><rect x="689" y="455" width="1" height="1"/><rect x="673" y="456" width="1" height="1"/><rect x="690" y="456" width="1" height="1"/><rect x="673" y="457" width="1" height="1"/><rect x="691" y="457" width="1" height="1"/><rect x="671" y="461" width="1" height="1"/><rect x="694" y="461" width="1" height="1"/><rect x="670" y="462" width="1" height="1"/><rect x="695" y="462" width="1" height="1"/><rect x="670" y="463" width="1" height="1"/><rect x="696" y="463" width="1" height="1"/><rect x="669" y="467" width="1" height="1"/><rect x="699" y="467" width="1" height="1"/><rect x="668" y="468" width="1" height="1"/><rect x="700" y="468" width="1" height="1"/><rect x="668" y="469" width="1" height="1"/><rect x="701" y="469" width="1" height="1"/><rect x="666" y="473" width="1" height="1"/><rect x="705" y="473" width="1" height="1"/><rect x="665" y="474" width="1" height="1"/><rect x="706" y="474" width="1" height="1"/><rect x="665" y="475" width="1" height="1"/><rect x="707" y="475" width="1" height="1"/><rect x="663" y="479" width="1" height="1"/><rect x="711" y="479" width="1" height="1"/><rect x="452" y="480" width="3" height="1"/><rect x="662" y="480" width="1" height="1"/><rect x="712" y="480" width="1" height="1"/><rect x="448" y="481" width="1" height="1"/><rect x="458" y="481" width="2" height="1"/><rect x="662" y="481" width="1" height="1"/><rect x="713" y="481" width="1" height="1"/><rect x="446" y="482" width="2" height="1"/><rect x="460" y="482" width="1" height="1"/><rect x="442" y="485" width="1" height="1"/><rect x="464" y="485" width="2" height="1"/><rect x="660" y="485" width="1" height="1"/><rect x="717" y="485" width="1" height="1"/><rect x="441" y="486" width="1" height="1"/><rect x="466" y="486" width="1" height="1"/><rect x="659" y="486" width="1" height="1"/><rect x="718" y="486" width="1" height="1"/><rect x="440" y="487" width="1" height="1"/><rect x="659" y="487" width="1" height="1"/><rect x="719" y="487" width="1" height="1"/><rect x="470" y="490" width="1" height="1"/><rect x="437" y="491" width="1" height="1"/><rect x="471" y="491" width="1" height="1"/><rect x="656" y="491" width="1" height="1"/><rect x="722" y="491" width="1" height="1"/><rect x="436" y="492" width="1" height="1"/><rect x="472" y="492" width="1" height="1"/><rect x="655" y="492" width="1" height="1"/><rect x="723" y="492" width="1" height="1"/><rect x="436" y="493" width="1" height="1"/><rect x="655" y="493" width="1" height="1"/><rect x="724" y="493" width="1" height="1"/><rect x="476" y="496" width="1" height="1"/><rect x="433" y="497" width="1" height="1"/><rect x="477" y="497" width="1" height="1"/><rect x="651" y="497" width="1" height="1"/><rect x="728" y="497" width="1" height="1"/><rect x="432" y="498" width="1" height="1"/><rect x="478" y="498" width="1" height="1"/><rect x="550" y="498" width="1" height="1"/><rect x="650" y="498" width="1" height="1"/><rect x="729" y="498" width="1" height="1"/><rect x="432" y="499" width="1" height="1"/><rect x="548" y="499" width="2" height="1"/><rect x="554" y="499" width="2" height="1"/><rect x="649" y="499" width="1" height="1"/><rect x="730" y="499" width="1" height="1"/><rect x="544" y="500" width="1" height="1"/><rect x="556" y="500" width="1" height="1"/><rect x="482" y="501" width="2" height="1"/><rect x="543" y="501" width="1" height="1"/><rect x="645" y="501" width="1" height="1"/><rect x="484" y="502" width="1" height="1"/><rect x="542" y="502" width="1" height="1"/><rect x="644" y="502" width="1" height="1"/><rect x="428" y="503" width="1" height="1"/><rect x="643" y="503" width="1" height="1"/><rect x="734" y="503" width="1" height="1"/><rect x="427" y="504" width="1" height="1"/><rect x="488" y="504" width="2" height="1"/><rect x="560" y="504" width="1" height="1"/><rect x="426" y="505" width="1" height="1"/><rect x="490" y="505" width="1" height="1"/><rect x="538" y="505" width="1" height="1"/><rect x="561" y="505" width="1" height="1"/><rect x="639" y="505" width="1" height="1"/><rect x="386" y="506" width="1" height="1"/><rect x="390" y="506" width="3" height="1"/><rect x="396" y="506" width="2" height="1"/><rect x="494" y="506" width="3" height="1"/><rect x="536" y="506" width="2" height="1"/><rect x="562" y="506" width="1" height="1"/><rect x="637" y="506" width="2" height="1"/><rect x="384" y="507" width="2" height="1"/><rect x="398" y="507" width="1" height="1"/><rect x="422" y="507" width="1" height="1"/><rect x="500" y="507" width="2" height="1"/><rect x="402" y="508" width="3" height="1"/><rect x="408" y="508" width="2" height="1"/><rect x="420" y="508" width="2" height="1"/><rect x="502" y="508" width="1" height="1"/><rect x="633" y="508" width="1" height="1"/><rect x="410" y="509" width="1" height="1"/><rect x="414" y="509" width="3" height="1"/><rect x="532" y="509" width="1" height="1"/><rect x="631" y="509" width="2" height="1"/><rect x="506" y="510" width="2" height="1"/><rect x="530" y="510" width="2" height="1"/><rect x="566" y="510" width="1" height="1"/><rect x="625" y="510" width="3" height="1"/><rect x="380" y="511" width="1" height="1"/><rect x="508" y="511" width="1" height="1"/><rect x="567" y="511" width="1" height="1"/><rect x="621" y="511" width="1" height="1"/><rect x="379" y="512" width="1" height="1"/><rect x="526" y="512" width="1" height="1"/><rect x="568" y="512" width="1" height="1"/><rect x="619" y="512" width="2" height="1"/><rect x="378" y="513" width="1" height="1"/><rect x="512" y="513" width="2" height="1"/><rect x="524" y="513" width="2" height="1"/><rect x="514" y="514" width="1" height="1"/><rect x="518" y="514" width="3" height="1"/><rect x="615" y="514" width="1" height="1"/><rect x="613" y="515" width="2" height="1"/><rect x="346" y="516" width="1" height="1"/><rect x="571" y="516" width="2" height="1"/><rect x="609" y="516" width="1" height="1"/><rect x="338" y="517" width="3" height="1"/><rect x="344" y="517" width="2" height="1"/><rect x="350" y="517" width="1" height="1"/><rect x="375" y="517" width="1" height="1"/><rect x="573" y="517" width="1" height="1"/><rect x="607" y="517" width="2" height="1"/><rect x="262" y="518" width="1" height="1"/><rect x="266" y="518" width="3" height="1"/><rect x="351" y="518" width="1" height="1"/><rect x="374" y="518" width="1" height="1"/><rect x="260" y="519" width="2" height="1"/><rect x="272" y="519" width="2" height="1"/><rect x="334" y="519" width="1" height="1"/><rect x="352" y="519" width="1" height="1"/><rect x="373" y="519" width="1" height="1"/><rect x="603" y="519" width="1" height="1"/><rect x="69" y="520" width="2" height="1"/><rect x="256" y="520" width="1" height="1"/><rect x="274" y="520" width="1" height="1"/><rect x="332" y="520" width="2" height="1"/><rect x="577" y="520" width="2" height="1"/><rect x="601" y="520" width="2" height="1"/><rect x="65" y="521" width="1" height="1"/><rect x="71" y="521" width="1" height="1"/><rect x="254" y="521" width="2" height="1"/><rect x="326" y="521" width="3" height="1"/><rect x="579" y="521" width="1" height="1"/><rect x="583" y="521" width="3" height="1"/><rect x="597" y="521" width="1" height="1"/><rect x="29" y="522" width="1" height="1"/><rect x="33" y="522" width="2" height="1"/><rect x="63" y="522" width="2" height="1"/><rect x="278" y="522" width="3" height="1"/><rect x="322" y="522" width="1" height="1"/><rect x="356" y="522" width="1" height="1"/><rect x="589" y="522" width="3" height="1"/><rect x="595" y="522" width="2" height="1"/><rect x="27" y="523" width="2" height="1"/><rect x="35" y="523" width="1" height="1"/><rect x="320" y="523" width="2" height="1"/><rect x="357" y="523" width="1" height="1"/><rect x="370" y="523" width="1" height="1"/><rect x="23" y="524" width="1" height="1"/><rect x="39" y="524" width="3" height="1"/><rect x="45" y="524" width="2" height="1"/><rect x="57" y="524" width="3" height="1"/><rect x="75" y="524" width="1" height="1"/><rect x="250" y="524" width="1" height="1"/><rect x="284" y="524" width="2" height="1"/><rect x="358" y="524" width="1" height="1"/><rect x="369" y="524" width="1" height="1"/><rect x="21" y="525" width="2" height="1"/><rect x="47" y="525" width="1" height="1"/><rect x="51" y="525" width="3" height="1"/><rect x="75" y="525" width="1" height="1"/><rect x="249" y="525" width="1" height="1"/><rect x="286" y="525" width="1" height="1"/><rect x="314" y="525" width="3" height="1"/><rect x="368" y="525" width="1" height="1"/><rect x="17" y="526" width="1" height="1"/><rect x="76" y="526" width="1" height="1"/><rect x="248" y="526" width="1" height="1"/><rect x="290" y="526" width="3" height="1"/><rect x="296" y="526" width="2" height="1"/><rect x="362" y="526" width="2" height="1"/><rect x="15" y="527" width="2" height="1"/><rect x="298" y="527" width="1" height="1"/><rect x="302" y="527" width="3" height="1"/><rect x="308" y="527" width="3" height="1"/><rect x="364" y="527" width="1" height="1"/><rect x="79" y="530" width="1" height="1"/><rect x="245" y="530" width="1" height="1"/><rect x="9" y="531" width="3" height="1"/><rect x="79" y="531" width="1" height="1"/><rect x="244" y="531" width="1" height="1"/><rect x="80" y="532" width="1" height="1"/><rect x="243" y="532" width="1" height="1"/><rect x="5" y="533" width="1" height="1"/><rect x="3" y="534" width="2" height="1"/><rect x="83" y="536" width="1" height="1"/><rect x="240" y="536" width="1" height="1"/><rect x="83" y="537" width="1" height="1"/><rect x="239" y="537" width="1" height="1"/><rect x="84" y="538" width="1" height="1"/><rect x="239" y="538" width="1" height="1"/><rect x="87" y="542" width="1" height="1"/><rect x="236" y="542" width="1" height="1"/><rect x="87" y="543" width="1" height="1"/><rect x="235" y="543" width="1" height="1"/><rect x="88" y="544" width="1" height="1"/><rect x="234" y="544" width="1" height="1"/><rect x="91" y="548" width="2" height="1"/><rect x="230" y="548" width="1" height="1"/><rect x="93" y="549" width="1" height="1"/><rect x="228" y="549" width="2" height="1"/><rect x="210" y="550" width="3" height="1"/><rect x="216" y="550" width="3" height="1"/><rect x="97" y="551" width="2" height="1"/><rect x="222" y="551" width="3" height="1"/><rect x="99" y="552" width="1" height="1"/><rect x="206" y="552" width="1" height="1"/><rect x="103" y="553" width="3" height="1"/><rect x="109" y="553" width="3" height="1"/><rect x="115" y="553" width="3" height="1"/><rect x="205" y="553" width="1" height="1"/><rect x="121" y="554" width="2" height="1"/><rect x="204" y="554" width="1" height="1"/><rect x="123" y="555" width="1" height="1"/><rect x="127" y="557" width="2" height="1"/><rect x="129" y="558" width="1" height="1"/><rect x="201" y="558" width="1" height="1"/><rect x="200" y="559" width="1" height="1"/><rect x="133" y="560" width="2" height="1"/><rect x="200" y="560" width="1" height="1"/><rect x="135" y="561" width="1" height="1"/><rect x="199" y="561" width="1" height="1"/><rect x="139" y="562" width="3" height="1"/><rect x="145" y="563" width="2" height="1"/><rect x="195" y="563" width="1" height="1"/><rect x="147" y="564" width="1" height="1"/><rect x="151" y="564" width="3" height="1"/><rect x="194" y="564" width="1" height="1"/><rect x="157" y="565" width="3" height="1"/><rect x="163" y="565" width="3" height="1"/><rect x="193" y="565" width="1" height="1"/><rect x="169" y="566" width="2" height="1"/><rect x="171" y="567" width="1" height="1"/><rect x="175" y="568" width="2" height="1"/><rect x="189" y="568" width="1" height="1"/><rect x="177" y="569" width="1" height="1"/><rect x="187" y="569" width="2" height="1"/><rect x="181" y="570" width="3" height="1"/>
</g>
<g fill="#000" shape-rendering="crispEdges">
<rect x="2" y="2" width="759" height="1"/><rect x="2" y="436" width="759" height="1"/><rect x="2" y="2" width="1" height="435"/><rect x="760" y="2" width="1" height="435"/><rect x="2" y="438" width="759" height="1"/><rect x="2" y="579" width="760" height="1"/><rect x="2" y="438" width="1" height="142"/><rect x="760" y="438" width="1" height="142"/><rect x="761" y="25" width="2" height="1"/><rect x="761" y="61" width="2" height="1"/><rect x="761" y="98" width="2" height="1"/><rect x="761" y="135" width="2" height="1"/><rect x="761" y="172" width="2" height="1"/><rect x="761" y="209" width="2" height="1"/><rect x="761" y="246" width="2" height="1"/><rect x="761" y="283" width="2" height="1"/><rect x="761" y="320" width="2" height="1"/><rect x="761" y="357" width="2" height="1"/><rect x="761" y="394" width="2" height="1"/><rect x="761" y="430" width="2" height="1"/><rect x="761" y="440" width="1" height="1"/><rect x="761" y="514" width="1" height="1"/><rect x="761" y="578" width="1" height="1"/><rect x="3" y="580" width="1" height="3"/><rect x="67" y="580" width="1" height="3"/><rect x="131" y="580" width="1" height="3"/><rect x="195" y="580" width="1" height="3"/><rect x="259" y="580" width="1" height="3"/><rect x="323" y="580" width="1" height="3"/><rect x="387" y="580" width="1" height="3"/><rect x="451" y="580" width="1" height="3"/><rect x="515" y="580" width="1" height="3"/><rect x="579" y="580" width="1" height="3"/><rect x="643" y="580" width="1" height="3"/><rect x="707" y="580" width="1" height="3"/><rect x="760" y="303" width="1" height="1" fill="#c0c0c0"/><rect x="6" y="9" width="7" height="1"/><rect x="7" y="10" width="5" height="1"/><rect x="8" y="11" width="3" height="1"/><rect x="9" y="12" width="1" height="1"/>
</g>
<text transform="translate(765.8,28.75) scale(0.933,1)" xml:space="preserve">1.1210</text><text transform="translate(765.8,64.75) scale(0.933,1)" xml:space="preserve">1.1175</text><text transform="translate(765.8,101.75) scale(0.933,1)" xml:space="preserve">1.1140</text><text transform="translate(765.8,138.75) scale(0.933,1)" xml:space="preserve">1.1105</text><text transform="translate(765.8,175.75) scale(0.933,1)" xml:space="preserve">1.1070</text><text transform="translate(765.8,212.75) scale(0.933,1)" xml:space="preserve">1.1035</text><text transform="translate(765.8,249.75) scale(0.933,1)" xml:space="preserve">1.1000</text><text transform="translate(765.8,286.75) scale(0.933,1)" xml:space="preserve">1.0965</text><text transform="translate(765.8,323.75) scale(0.933,1)" xml:space="preserve">1.0930</text><text transform="translate(765.8,360.75) scale(0.933,1)" xml:space="preserve">1.0895</text><text transform="translate(765.8,397.75) scale(0.933,1)" xml:space="preserve">1.0860</text><text transform="translate(765.8,433.75) scale(0.933,1)" xml:space="preserve">1.0825</text>
<text transform="translate(763.5,448.75) scale(0.933,1)" xml:space="preserve">0.00512</text><text transform="translate(763.5,517.75) scale(0.933,1)" xml:space="preserve">0.00</text><text transform="translate(763.5,575.75) scale(0.933,1)" xml:space="preserve">-0.00445</text>
<rect x="762" y="25" width="36" height="11" fill="#ff0000" shape-rendering="crispEdges"/><text class="w" transform="translate(765.8,33.75) scale(0.933,1)" xml:space="preserve">1.1204</text><rect x="762" y="90" width="36" height="11" fill="#ff0000" shape-rendering="crispEdges"/><text class="w" transform="translate(765.8,98.75) scale(0.933,1)" xml:space="preserve">1.1142</text><rect x="762" y="177" width="36" height="11" fill="#ff0000" shape-rendering="crispEdges"/><text class="w" transform="translate(765.8,185.75) scale(0.933,1)" xml:space="preserve">1.1060</text><rect x="762" y="245" width="36" height="11" fill="#ff0000" shape-rendering="crispEdges"/><text class="w" transform="translate(765.8,253.75) scale(0.933,1)" xml:space="preserve">1.0995</text><rect x="762" y="328" width="36" height="11" fill="#ff0000" shape-rendering="crispEdges"/><text class="w" transform="translate(765.8,336.75) scale(0.933,1)" xml:space="preserve">1.0916</text><rect x="762" y="365" width="36" height="11" fill="#ff0000" shape-rendering="crispEdges"/><text class="w" transform="translate(765.8,373.75) scale(0.933,1)" xml:space="preserve">1.0881</text><rect x="762" y="403" width="36" height="11" fill="#ff0000" shape-rendering="crispEdges"/><text class="w" transform="translate(765.8,411.75) scale(0.933,1)" xml:space="preserve">1.0846</text><rect x="762" y="428" width="36" height="11" fill="#ff0000" shape-rendering="crispEdges"/><text class="w" transform="translate(765.8,436.75) scale(0.933,1)" xml:space="preserve">1.0821</text>
<rect x="762" y="298" width="36" height="11" fill="#000" shape-rendering="crispEdges"/><text class="w" transform="translate(765.8,306.75) scale(0.933,1)" xml:space="preserve">1.0946</text>
<text transform="translate(2,591.75) scale(0.933,1)" xml:space="preserve">19 Oct <tspan dx="1.07">2016</tspan></text><text transform="translate(66,591.75) scale(0.933,1)" xml:space="preserve">20 Oct <tspan dx="1.07">14:00</tspan></text><text transform="translate(130,591.75) scale(0.933,1)" xml:space="preserve">21 Oct <tspan dx="1.07">06:00</tspan></text><text transform="translate(194,591.75) scale(0.933,1)" xml:space="preserve">21 Oct <tspan dx="1.07">22:00</tspan></text><text transform="translate(258,591.75) scale(0.933,1)" xml:space="preserve">24 Oct <tspan dx="1.07">15:00</tspan></text><text transform="translate(322,591.75) scale(0.933,1)" xml:space="preserve">25 Oct <tspan dx="1.07">07:00</tspan></text><text transform="translate(386,591.75) scale(0.933,1)" xml:space="preserve">25 Oct <tspan dx="1.07">23:00</tspan></text><text transform="translate(450,591.75) scale(0.933,1)" xml:space="preserve">26 Oct <tspan dx="1.07">15:00</tspan></text><text transform="translate(514,591.75) scale(0.933,1)" xml:space="preserve">27 Oct <tspan dx="1.07">07:00</tspan></text><text transform="translate(578,591.75) scale(0.933,1)" xml:space="preserve">27 Oct <tspan dx="1.07">23:00</tspan></text><text transform="translate(642,591.75) scale(0.933,1)" xml:space="preserve">28 Oct <tspan dx="1.07">15:00</tspan></text><text transform="translate(706,591.75) scale(0.933,1)" xml:space="preserve">31 Oct <tspan dx="1.07">08:00</tspan></text>
<text transform="translate(18.5,13.75) scale(0.933,1)" xml:space="preserve">EURUSD,H1  <tspan dx="0.75">1.0944</tspan> 1.0947 1.0938 1.0946</text>
<text transform="translate(7.5,451.75) scale(0.933,1)" xml:space="preserve">MACD(5,34,5) <tspan dx="1.34">0.00026</tspan> 0.00071</text>
</svg>
</body></html>
